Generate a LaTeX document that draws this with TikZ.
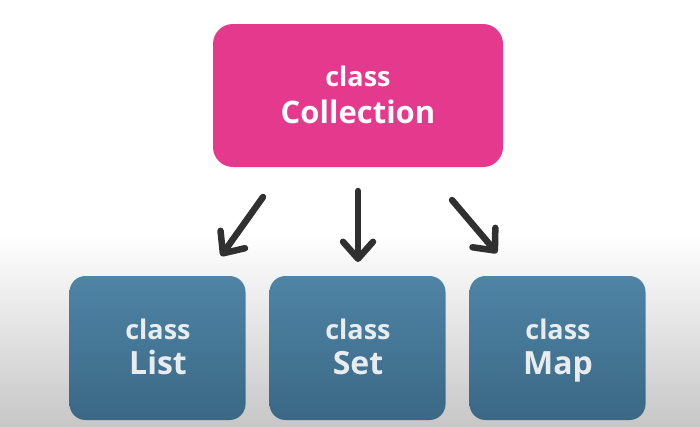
\documentclass[tikz,border=0pt]{standalone}
\usepackage{fontspec}
\setmainfont{Open Sans}
\usetikzlibrary{arrows.meta}
\definecolor{magentabox}{RGB}{229,57,142}
\definecolor{bluetop}{RGB}{79,132,165}
\definecolor{bluebot}{RGB}{58,104,133}
\definecolor{arrowgray}{RGB}{48,48,48}
\definecolor{lighttext}{RGB}{232,236,238}
\tikzset{
  topbox/.style={draw=none, fill=magentabox, rounded corners=20pt, minimum width=290pt, minimum height=143pt, inner sep=0pt},
  subbox/.style={draw=none, top color=bluetop, bottom color=bluebot, rounded corners=16pt, minimum width=176pt, minimum height=144pt, inner sep=0pt},
  smalltxt/.style={anchor=base, inner sep=0pt, font=\bfseries\fontsize{27}{30}\selectfont},
  bigtxt/.style={anchor=base, inner sep=0pt, font=\bfseries\fontsize{32}{36}\selectfont},
  conn/.style={draw=arrowgray, line width=6.5pt, line cap=round, -{Straight Barb[length=17pt, width=30pt, round]}}
}
\begin{document}
\begin{tikzpicture}[x=1pt, y=-1pt]
  \useasboundingbox (0,0) rectangle (700,426);
  \fill[white] (0,0) rectangle (700,426);
  \shade[top color=white, bottom color=black!22] (0,235) rectangle (700,426);

  \node[topbox] (coll) at (358,95.5) {};
  \node[smalltxt, text=white] (collA) at (358,86) {class};
  \node[bigtxt, text=white, font=\bfseries\fontsize{31}{36}\selectfont] (collB) at (358,123) {Collection};

  \node[subbox] (list) at (157.5,348) {};
  \node[smalltxt, text=lighttext] (listA) at (158,339) {class};
  \node[bigtxt, text=lighttext] (listB) at (158,374) {List};

  \node[subbox] (set) at (357.5,348) {};
  \node[smalltxt, text=lighttext] (setA) at (358,339) {class};
  \node[bigtxt, text=lighttext] (setB) at (358,374) {Set};

  \node[subbox] (map) at (557.5,348) {};
  \node[smalltxt, text=lighttext] (mapA) at (558,339) {class};
  \node[bigtxt, text=lighttext] (mapB) at (558,374) {Map};

  \coordinate (a1s) at (263,197);
  \coordinate (a1e) at (221,256);
  \coordinate (a2s) at (358,191);
  \coordinate (a2e) at (358,262);
  \coordinate (a3s) at (452,200);
  \coordinate (a3e) at (497,253);
  \draw[conn] (a1s) -- (a1e);
  \draw[conn] (a2s) -- (a2e);
  \draw[conn] (a3s) -- (a3e);
\end{tikzpicture}
\end{document}
